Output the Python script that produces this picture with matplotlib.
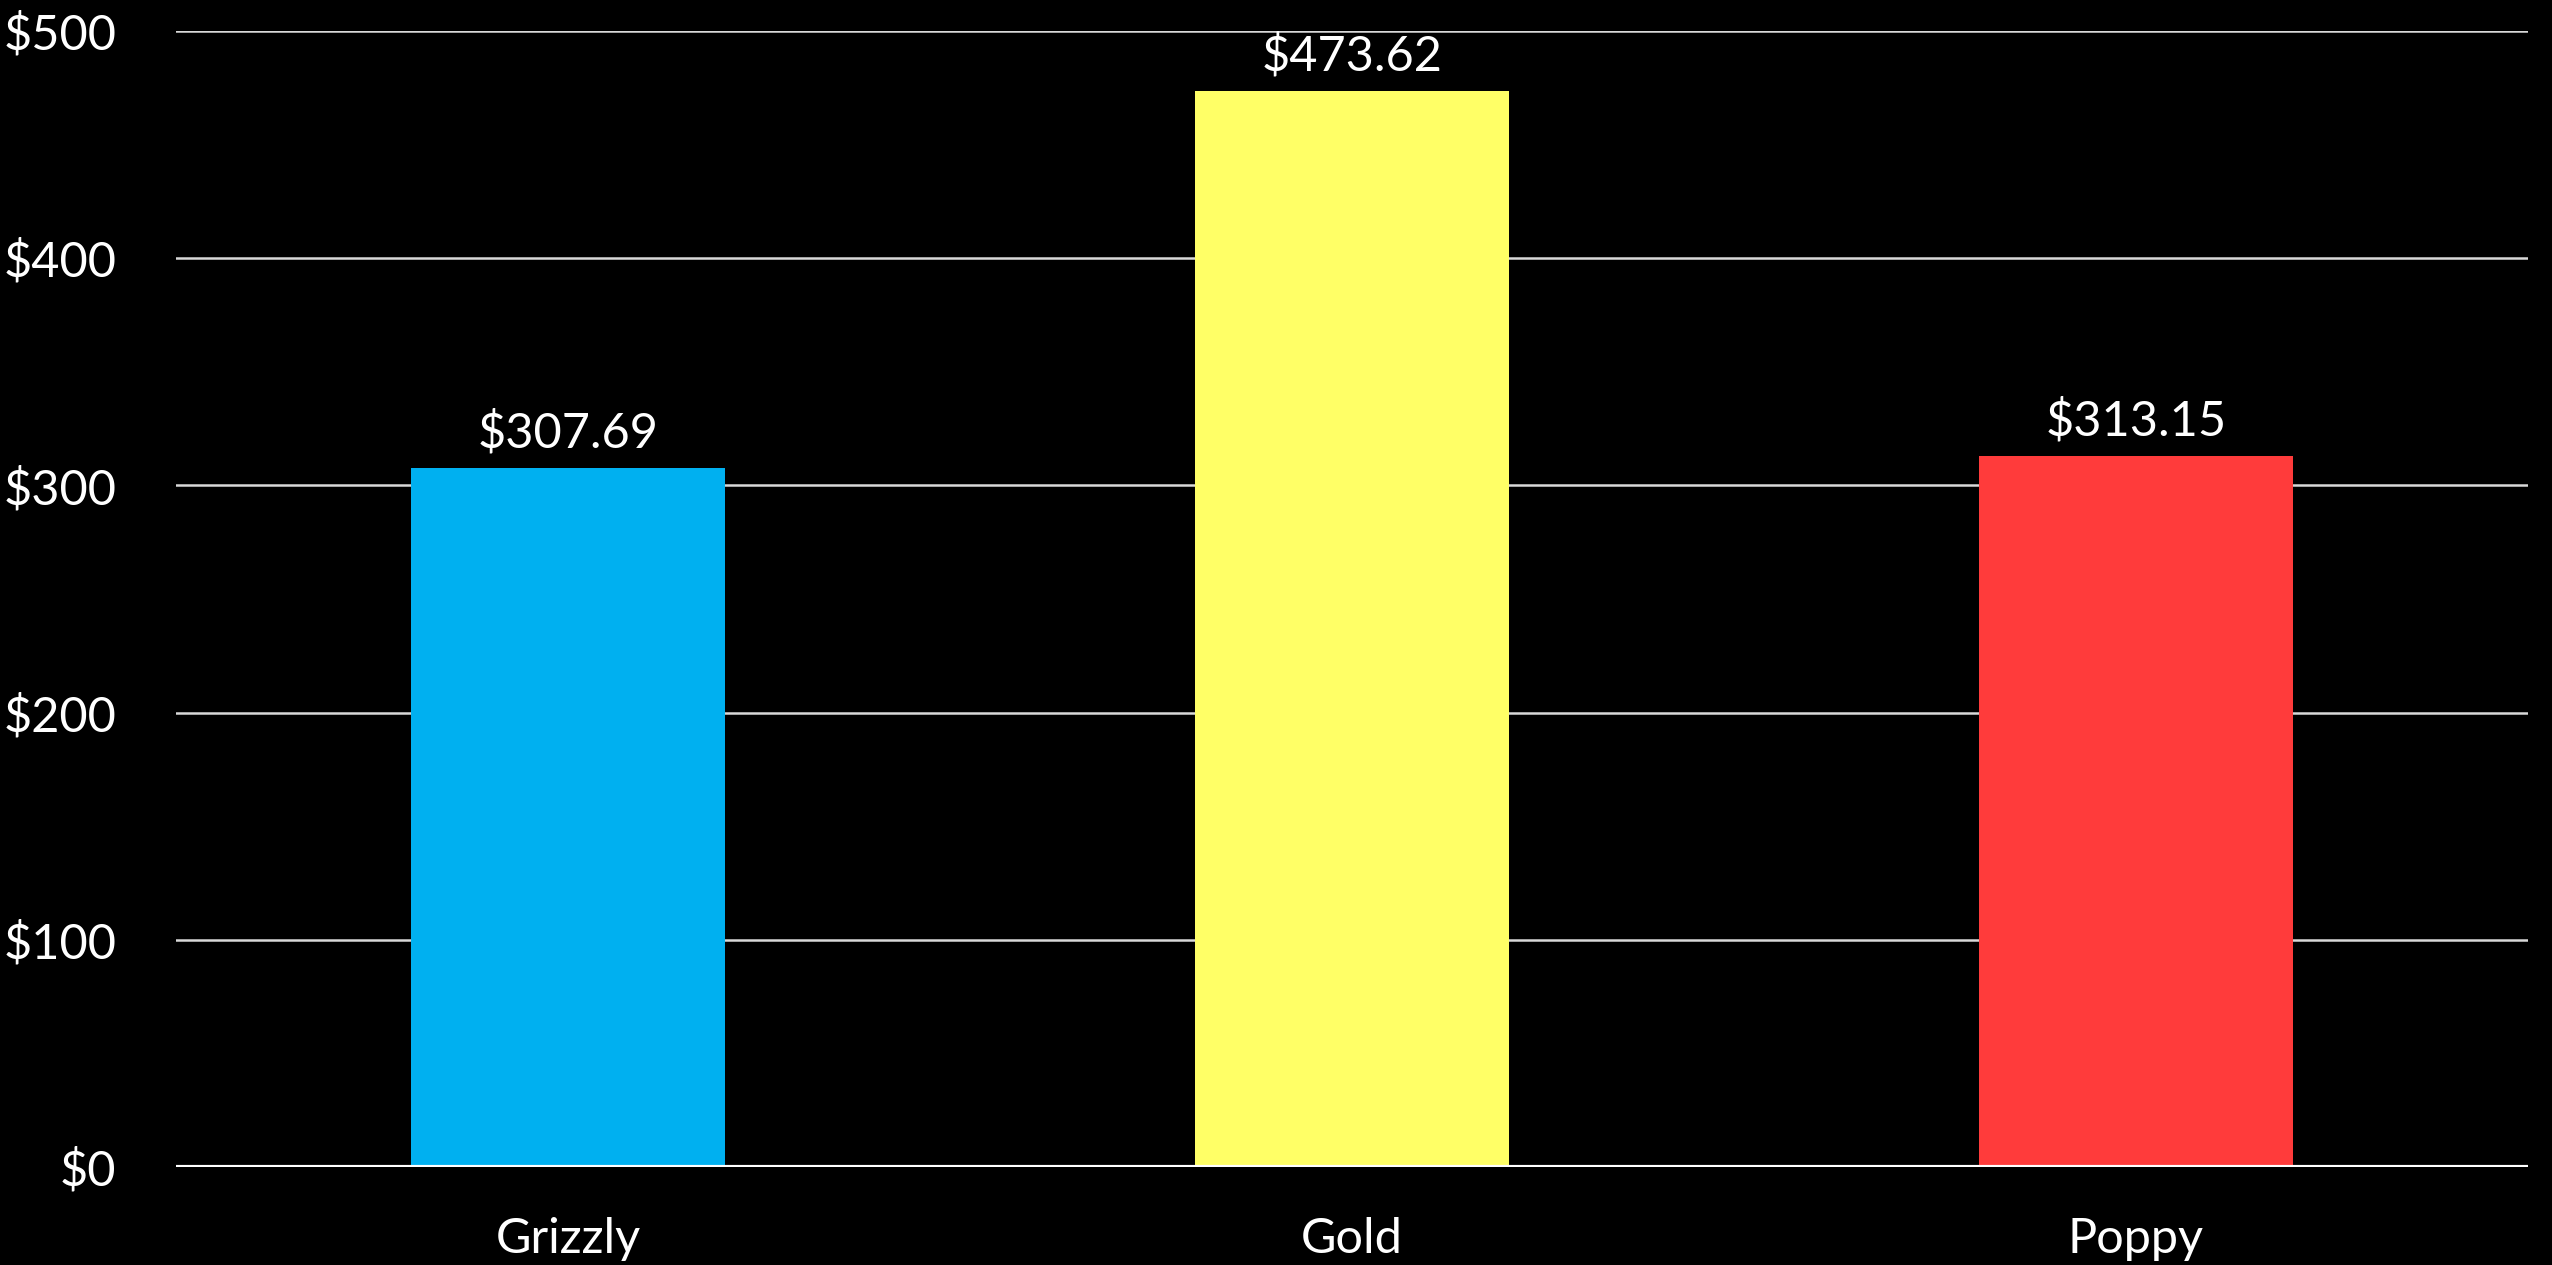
import matplotlib
matplotlib.use("Agg")
import matplotlib.pyplot as plt
from matplotlib.ticker import FuncFormatter, MultipleLocator

categories = ["Grizzly", "Gold", "Poppy"]
values = [307.69, 473.62, 313.15]
colors = ["#00B0F0", "#FFFF66", "#FF3B3B"]

plt.rcParams["font.family"] = ["Lato", "DejaVu Sans"]

fig = plt.figure(figsize=(25.52, 12.65), dpi=100, facecolor="black")
ax = fig.add_axes([176 / 2552, 1 - 1167 / 1265, (2528 - 176) / 2552, (1167 - 31) / 1265])
ax.set_facecolor("black")

x = list(range(len(categories)))
ax.bar(x, values, width=0.4, color=colors, zorder=3)

ax.set_xlim(-0.5, len(categories) - 0.5)
ax.set_ylim(0, 500)
ax.yaxis.set_major_locator(MultipleLocator(100))
ax.yaxis.set_major_formatter(FuncFormatter(lambda v, _: f"${v:,.0f}"))
ax.grid(axis="y", color="#D9D9D9", linewidth=1.8, zorder=0)
ax.axhline(0, color="white", linewidth=3, zorder=4)

for s in ax.spines.values():
    s.set_visible(False)

ax.set_xticks(x)
ax.set_xticklabels(categories)
ax.tick_params(axis="both", length=0, colors="white", labelsize=35)
ax.tick_params(axis="y", pad=43)
ax.tick_params(axis="x", pad=36)

for xi, v in zip(x, values):
    ax.annotate(f"${v:,.2f}", (xi, v), xytext=(0, 9), textcoords="offset points",
                ha="center", va="bottom", color="white", fontsize=35)

fig.savefig("out.png", dpi=100, facecolor="black")
